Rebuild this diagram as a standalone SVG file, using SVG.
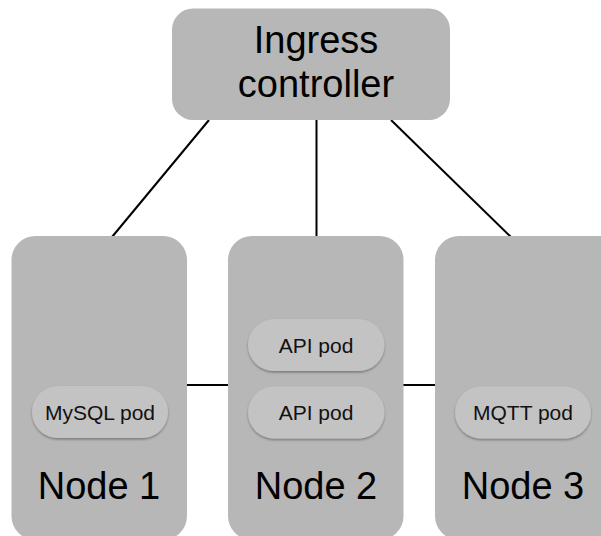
<svg xmlns="http://www.w3.org/2000/svg" width="601" height="536" viewBox="0 0 601 536">
<defs>
<filter id="sh" x="-10%" y="-10%" width="120%" height="130%">
<feDropShadow dx="0" dy="1.5" stdDeviation="1.2" flood-color="#000" flood-opacity="0.35"/>
</filter>
</defs>
<style>
.box{fill:#b7b7b7;}
.pod{fill:#c3c3c3;filter:url(#sh);}
.big{font-family:"Liberation Sans",Arial,sans-serif;font-size:38px;fill:#000;text-anchor:middle;}
.small{font-family:"Liberation Sans",Arial,sans-serif;font-size:21px;fill:#111;text-anchor:middle;}
.line{stroke:#000;stroke-width:2;fill:none;}
</style>
<rect width="601" height="536" fill="#fff"/>
<g id="connectors">
<line class="line" x1="209" y1="120" x2="112" y2="237"/>
<line class="line" x1="316.5" y1="120" x2="316.5" y2="237"/>
<line class="line" x1="391" y1="120" x2="511" y2="237"/>
<line class="line" x1="186" y1="385" x2="229" y2="385"/>
<line class="line" x1="403" y1="385" x2="436" y2="385"/>
</g>
<g id="ingress">
<rect class="box" x="172" y="8.5" width="278" height="111.5" rx="21" ry="21"/>
<text class="big" x="316" y="53" font-size="39">Ingress</text>
<text class="big" x="316" y="97" font-size="39">controller</text>
</g>
<g id="node1">
<rect class="box" x="11.5" y="236" width="175.5" height="304" rx="24" ry="24"/>
<g id="mysql-pod">
<rect class="pod" x="32" y="386" width="136" height="52" rx="26" ry="26"/>
<text class="small" x="100" y="420">MySQL pod</text>
</g>
<text class="big" x="99" y="499">Node 1</text>
</g>
<g id="node2">
<rect class="box" x="228" y="236" width="175.5" height="304" rx="24" ry="24"/>
<g id="api-pod-1">
<rect class="pod" x="248" y="319" width="136.5" height="52" rx="26" ry="26"/>
<text class="small" x="316" y="353">API pod</text>
</g>
<g id="api-pod-2">
<rect class="pod" x="248" y="386.5" width="136.5" height="52" rx="26" ry="26"/>
<text class="small" x="316" y="420">API pod</text>
</g>
<text class="big" x="316" y="499">Node 2</text>
</g>
<g id="node3">
<rect class="box" x="435" y="236" width="190" height="304" rx="24" ry="24"/>
<g id="mqtt-pod">
<rect class="pod" x="455" y="386.5" width="136" height="52" rx="26" ry="26"/>
<text class="small" x="523" y="420">MQTT pod</text>
</g>
<text class="big" x="523" y="499">Node 3</text>
</g>
</svg>
